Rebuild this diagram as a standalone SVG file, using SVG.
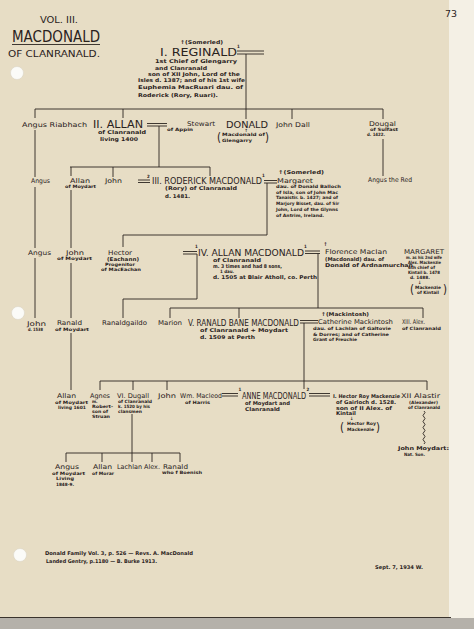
<svg xmlns="http://www.w3.org/2000/svg" width="474" height="629" viewBox="0 0 474 629">
<style>
text{font-family:"DejaVu Sans Condensed","DejaVu Sans",sans-serif;fill:#2a221c}
.big{font-size:10.5px}
.cap{font-size:8px}
.nm{font-size:6.5px}
.sm{font-size:5.2px;font-weight:bold}
.xs{font-size:4.4px;font-weight:bold}
.par{font-size:13px}
.ln{stroke:#2b2520;stroke-width:0.9;fill:none}
</style>
<rect x="0" y="0" width="474" height="629" fill="#e7ddc5"/>
<rect x="449" y="0" width="25" height="629" fill="#f4f0e5"/>
<rect x="0" y="618" width="474" height="11" fill="#b5b1aa"/>
<line x1="0" y1="617.5" x2="451" y2="617.5" stroke="#3a332c" stroke-width="1.2"/>
<g id="holes" fill="#fbfbf8" stroke="#d6d0c2" stroke-width="0.5">
<circle cx="17" cy="73" r="6.5"/><circle cx="18" cy="313" r="6.5"/><circle cx="20" cy="555" r="6.5"/>
</g>
<g id="title">
<text class="cap" x="40" y="23" textLength="38" lengthAdjust="spacingAndGlyphs">VOL. III.</text>
<text x="12" y="42" style="font-size:16px" textLength="88" lengthAdjust="spacingAndGlyphs">MACDONALD</text>
<line class="ln" x1="12" y1="44.5" x2="100" y2="44.5"/>
<text class="cap" x="8" y="57" textLength="92" lengthAdjust="spacingAndGlyphs">OF CLANRANALD.</text>
<text x="445" y="17" style="font-size:9px" textLength="12" lengthAdjust="spacingAndGlyphs">73</text>
</g>
<g id="connectors" class="ln">
<path d="M237 51H264M237 54H264M246 54V109M35 109H383M123 109V118M246 109V119M292 109V119M383 109V119M383 139V176"/>
<path d="M35 109V118M35 130V177M35 187V248M35 258V318"/>
<path d="M71 167V176M71 190V248M71 263V318M71 333V390"/>
<path d="M147 123.5H167M147 126H167M159 126V167M70 167H210M113 167V177M210 167V176"/>
<path d="M138 180H150M138 182.5H150M264 180.5H277M264 183H277M267 183V235M123 235H267M123 235V247"/>
<path d="M183 251.5H197M183 254H197M197 254V299M123 299H197M123 299V318"/>
<path d="M305 251H320M305 253.5H320M318 253.5V308M170 308H423M170 308V318M239 308V318M423 308V318"/>
<path d="M300 320.5H318M300 323H318M304 323V389M100 381H427M100 381V390M133 381V390M167 381V390M427 381V390"/>
<path d="M222 393.5H238M222 396H238M309 393.5H330M309 396H330"/>
<path d="M132 414V462M66 453H180M66 453V462M102 453V462M152 453V462M180 453V462"/>
<path d="M424 411q2 1.5 0 3t0 3t0 3t0 3t0 3t0 3t0 3t0 3t0 3t0 3t0 3"/>
</g>
<g id="reginald">
<text class="sm" x="180" y="43.5" textLength="43" lengthAdjust="spacingAndGlyphs">↑(Somerled)</text>
<text class="big" x="160" y="56" textLength="77" lengthAdjust="spacingAndGlyphs">I. REGINALD</text>
<text class="xs" x="237" y="48">1</text>
<text class="sm" x="155" y="63" textLength="82" lengthAdjust="spacingAndGlyphs">1st Chief of Glengarry</text>
<text class="sm" x="155" y="69.5" textLength="52" lengthAdjust="spacingAndGlyphs">and Clanranald</text>
<text class="sm" x="148" y="75.8" textLength="92" lengthAdjust="spacingAndGlyphs">son of XII John, Lord of the</text>
<text class="sm" x="138" y="82.2" textLength="107" lengthAdjust="spacingAndGlyphs">Isles d. 1387; and of his 1st wife</text>
<text class="sm" x="138" y="89" textLength="105" lengthAdjust="spacingAndGlyphs">Euphemia MacRuari dau. of</text>
<text class="sm" x="138" y="97" textLength="80" lengthAdjust="spacingAndGlyphs">Roderick (Rory, Ruari).</text>
</g>
<g id="angus-riabhach"><text class="nm" x="22" y="127" textLength="65" lengthAdjust="spacingAndGlyphs">Angus Riabhach</text></g>
<g id="allan-ii">
<text class="big" x="93" y="128" textLength="50" lengthAdjust="spacingAndGlyphs">II. ALLAN</text>
<text class="sm" x="98" y="134" textLength="48" lengthAdjust="spacingAndGlyphs">of Clanranald</text>
<text class="sm" x="100" y="141" textLength="38" lengthAdjust="spacingAndGlyphs">living 1400</text>
</g>
<g id="stewart">
<text class="nm" x="187" y="126" textLength="28" lengthAdjust="spacingAndGlyphs">Stewart</text>
<text class="xs" x="167" y="131" textLength="26" lengthAdjust="spacingAndGlyphs">of Appin</text>
</g>
<g id="donald">
<text class="cap" x="226" y="127.5" textLength="42" lengthAdjust="spacingAndGlyphs">DONALD</text>
<text class="xs" x="244.5" y="132">↑</text>
<text class="par" x="217" y="142" textLength="4" lengthAdjust="spacingAndGlyphs">(</text>
<text class="xs" x="222" y="136" textLength="43" lengthAdjust="spacingAndGlyphs">Macdonald of</text>
<text class="xs" x="222" y="141.5" textLength="30" lengthAdjust="spacingAndGlyphs">Glengarry</text>
<text class="par" x="265" y="142" textLength="4" lengthAdjust="spacingAndGlyphs">)</text>
</g>
<g id="john-dall"><text class="nm" x="276" y="126.5" textLength="34" lengthAdjust="spacingAndGlyphs">John Dall</text></g>
<g id="dougal">
<text class="nm" x="369" y="126" textLength="27" lengthAdjust="spacingAndGlyphs">Dougal</text>
<text class="xs" x="370" y="131" textLength="28" lengthAdjust="spacingAndGlyphs">of Sulfast</text>
<text class="xs" x="367" y="136" textLength="18" lengthAdjust="spacingAndGlyphs">d. 1422.</text>
</g>
<g id="angus-1"><text class="nm" x="31" y="183" textLength="19" lengthAdjust="spacingAndGlyphs">Angus</text></g>
<g id="allan-moydart-1">
<text class="nm" x="70" y="182.5" textLength="20" lengthAdjust="spacingAndGlyphs">Allan</text>
<text class="xs" x="65" y="188" textLength="31" lengthAdjust="spacingAndGlyphs">of Moydart</text>
</g>
<g id="john-1"><text class="nm" x="105" y="183" textLength="17" lengthAdjust="spacingAndGlyphs">John</text></g>
<g id="roderick">
<text class="xs" x="147" y="177.5">2</text>
<text class="cap" x="152" y="184" textLength="110" lengthAdjust="spacingAndGlyphs">III. RODERICK MACDONALD</text>
<text class="xs" x="262" y="177">1</text>
<text class="sm" x="165" y="190" textLength="72" lengthAdjust="spacingAndGlyphs">(Rory) of Clanranald</text>
<text class="sm" x="165" y="197.5" textLength="25" lengthAdjust="spacingAndGlyphs">d. 1481.</text>
</g>
<g id="margaret-balloch">
<text class="sm" x="278" y="174" textLength="46" lengthAdjust="spacingAndGlyphs">↑(Somerled)</text>
<text class="nm" x="277" y="182.5" textLength="36" lengthAdjust="spacingAndGlyphs">Margaret</text>
<text class="xs" x="276" y="188" textLength="65" lengthAdjust="spacingAndGlyphs">dau. of Donald Balloch</text>
<text class="xs" x="276" y="193.5" textLength="62" lengthAdjust="spacingAndGlyphs">of Isla, son of John Mac</text>
<text class="xs" x="276" y="199" textLength="62" lengthAdjust="spacingAndGlyphs">Tanaistir. b. 1427; and of</text>
<text class="xs" x="276" y="204.5" textLength="63" lengthAdjust="spacingAndGlyphs">Marjory Bisset, dau. of Sir</text>
<text class="xs" x="276" y="210.5" textLength="62" lengthAdjust="spacingAndGlyphs">John, Lord of the Glynns</text>
<text class="xs" x="276" y="216.5" textLength="48" lengthAdjust="spacingAndGlyphs">of Antrim, Ireland.</text>
</g>
<g id="angus-the-red"><text class="nm" x="368" y="182" textLength="44" lengthAdjust="spacingAndGlyphs">Angus the Red</text></g>
<g id="angus-2"><text class="nm" x="28" y="255" textLength="23" lengthAdjust="spacingAndGlyphs">Angus</text></g>
<g id="john-moydart-1">
<text class="nm" x="66" y="254.5" textLength="18" lengthAdjust="spacingAndGlyphs">John</text>
<text class="xs" x="57" y="260" textLength="35" lengthAdjust="spacingAndGlyphs">of Moydart</text>
</g>
<g id="hector">
<text class="nm" x="108" y="254.5" textLength="24" lengthAdjust="spacingAndGlyphs">Hector</text>
<text class="sm" x="107" y="260.5" textLength="32" lengthAdjust="spacingAndGlyphs">(Eachann)</text>
<text class="xs" x="105" y="266" textLength="30" lengthAdjust="spacingAndGlyphs">Progenitor</text>
<text class="xs" x="101" y="271" textLength="40" lengthAdjust="spacingAndGlyphs">of MacEachan</text>
</g>
<g id="allan-iv">
<text class="xs" x="195" y="248">1</text>
<text class="cap" x="198" y="255.5" textLength="106" lengthAdjust="spacingAndGlyphs">IV. ALLAN MACDONALD</text>
<text class="xs" x="304" y="248">1</text>
<text class="sm" x="213" y="261.5" textLength="48" lengthAdjust="spacingAndGlyphs">of Clanranald</text>
<text class="sm" x="213" y="267.5" textLength="69" lengthAdjust="spacingAndGlyphs">m. 3 times and had 8 sons,</text>
<text class="xs" x="220" y="272.5" textLength="14" lengthAdjust="spacingAndGlyphs">1 dau.</text>
<text class="sm" x="213" y="278.5" textLength="104" lengthAdjust="spacingAndGlyphs">d. 1505 at Blair Atholl, co. Perth</text>
</g>
<g id="florence">
<text class="sm" x="323.5" y="246">↑</text>
<text class="nm" x="325" y="254" textLength="62" lengthAdjust="spacingAndGlyphs">Florence MacIan</text>
<text class="sm" x="325" y="261" textLength="59" lengthAdjust="spacingAndGlyphs">(Macdonald) dau. of</text>
<text class="sm" x="325" y="267" textLength="88" lengthAdjust="spacingAndGlyphs">Donald of Ardnamurchan</text>
</g>
<g id="margaret">
<text class="nm" x="404" y="254" textLength="40" lengthAdjust="spacingAndGlyphs">MARGARET</text>
<text class="xs" x="406" y="259" textLength="36" lengthAdjust="spacingAndGlyphs">m. as his 2nd wife</text>
<text class="xs" x="408" y="264" textLength="33" lengthAdjust="spacingAndGlyphs">Alex. Mackenzie</text>
<text class="xs" x="408" y="269" textLength="27" lengthAdjust="spacingAndGlyphs">6th chief of</text>
<text class="xs" x="408" y="274" textLength="32" lengthAdjust="spacingAndGlyphs">Kintail b. 1478</text>
<text class="xs" x="410" y="279" textLength="20" lengthAdjust="spacingAndGlyphs">d. 1488.</text>
<text class="xs" x="418" y="284">↓</text>
<text class="par" x="410" y="294" textLength="4" lengthAdjust="spacingAndGlyphs">(</text>
<text class="xs" x="415" y="288.5" textLength="26" lengthAdjust="spacingAndGlyphs">Mackenzie</text>
<text class="xs" x="417" y="293.5" textLength="22" lengthAdjust="spacingAndGlyphs">of Kintail</text>
<text class="par" x="443" y="294" textLength="4" lengthAdjust="spacingAndGlyphs">)</text>
</g>
<g id="john-1538">
<text class="nm" x="27" y="325.5" textLength="19" lengthAdjust="spacingAndGlyphs">John</text>
<text class="xs" x="28" y="331" textLength="15" lengthAdjust="spacingAndGlyphs">d. 1538</text>
</g>
<g id="ranald-moydart">
<text class="nm" x="57" y="325" textLength="25" lengthAdjust="spacingAndGlyphs">Ranald</text>
<text class="xs" x="55" y="330.5" textLength="34" lengthAdjust="spacingAndGlyphs">of Moydart</text>
</g>
<g id="ranaldgaildo"><text class="nm" x="102" y="325" textLength="45" lengthAdjust="spacingAndGlyphs">Ranaldgaildo</text></g>
<g id="marion"><text class="nm" x="158" y="325" textLength="24" lengthAdjust="spacingAndGlyphs">Marion</text></g>
<g id="ranald-bane">
<text class="cap" x="188" y="326" textLength="111" lengthAdjust="spacingAndGlyphs">V. RANALD BANE MACDONALD</text>
<text class="sm" x="200" y="332" textLength="88" lengthAdjust="spacingAndGlyphs">of Clanranald + Moydart</text>
<text class="sm" x="200" y="338.5" textLength="55" lengthAdjust="spacingAndGlyphs">d. 1509 at Perth</text>
</g>
<g id="catherine">
<text class="sm" x="321" y="316" textLength="48" lengthAdjust="spacingAndGlyphs">↑(Mackintosh)</text>
<text class="nm" x="318" y="324" textLength="75" lengthAdjust="spacingAndGlyphs">Catherine Mackintosh</text>
<text class="xs" x="313" y="330" textLength="78" lengthAdjust="spacingAndGlyphs">dau. of Lachlan of Galtovie</text>
<text class="xs" x="313" y="335.5" textLength="76" lengthAdjust="spacingAndGlyphs">&amp; Dorres; and of Catherine</text>
<text class="xs" x="313" y="341" textLength="44" lengthAdjust="spacingAndGlyphs">Grant of Freuchie</text>
</g>
<g id="alex-xiii">
<text class="nm" x="402" y="324" textLength="23" lengthAdjust="spacingAndGlyphs">XIII. Alex.</text>
<text class="xs" x="402" y="329.5" textLength="39" lengthAdjust="spacingAndGlyphs">of Clanranald</text>
</g>
<g id="allan-moydart-2">
<text class="nm" x="57" y="398" textLength="19" lengthAdjust="spacingAndGlyphs">Allan</text>
<text class="xs" x="55" y="403.5" textLength="33" lengthAdjust="spacingAndGlyphs">of Moydart</text>
<text class="xs" x="58" y="408.5" textLength="28" lengthAdjust="spacingAndGlyphs">living 1601</text>
</g>
<g id="agnes">
<text class="nm" x="90" y="398" textLength="20" lengthAdjust="spacingAndGlyphs">Agnes</text>
<text class="xs" x="92" y="403">m.</text>
<text class="xs" x="92" y="408" textLength="21" lengthAdjust="spacingAndGlyphs">Robert-</text>
<text class="xs" x="92" y="413" textLength="16" lengthAdjust="spacingAndGlyphs">son of</text>
<text class="xs" x="92" y="418" textLength="18" lengthAdjust="spacingAndGlyphs">Struan</text>
</g>
<g id="dugall">
<text class="nm" x="117" y="398" textLength="32" lengthAdjust="spacingAndGlyphs">VI. Dugall</text>
<text class="xs" x="118" y="403" textLength="34" lengthAdjust="spacingAndGlyphs">of Clanranald</text>
<text class="xs" x="118" y="408" textLength="32" lengthAdjust="spacingAndGlyphs">k. 1520 by his</text>
<text class="xs" x="118" y="413" textLength="24" lengthAdjust="spacingAndGlyphs">clansmen</text>
</g>
<g id="john-2"><text class="nm" x="158" y="398" textLength="18" lengthAdjust="spacingAndGlyphs">John</text></g>
<g id="wm-macleod">
<text class="nm" x="180" y="398" textLength="42" lengthAdjust="spacingAndGlyphs">Wm. Macleod</text>
<text class="xs" x="185" y="403.5" textLength="25" lengthAdjust="spacingAndGlyphs">of Harris</text>
</g>
<g id="anne">
<text class="xs" x="238.5" y="391">1</text>
<text class="cap" x="242" y="399" textLength="64" lengthAdjust="spacingAndGlyphs">ANNE MACDONALD</text>
<text class="xs" x="306.5" y="391">2</text>
<text class="sm" x="245" y="405" textLength="45" lengthAdjust="spacingAndGlyphs">of Moydart and</text>
<text class="sm" x="245" y="411" textLength="35" lengthAdjust="spacingAndGlyphs">Clanranald</text>
</g>
<g id="hector-roy">
<text class="sm" x="333" y="398" textLength="67" lengthAdjust="spacingAndGlyphs">I. Hector Roy Mackenzie</text>
<text class="sm" x="336" y="404" textLength="60" lengthAdjust="spacingAndGlyphs">of Gairloch d. 1528.</text>
<text class="sm" x="336" y="409.5" textLength="56" lengthAdjust="spacingAndGlyphs">son of II Alex. of</text>
<text class="sm" x="336" y="415" textLength="20" lengthAdjust="spacingAndGlyphs">Kintail</text>
<text class="xs" x="350" y="420">↓</text>
<text class="par" x="340" y="432" textLength="4" lengthAdjust="spacingAndGlyphs">(</text>
<text class="xs" x="347" y="425" textLength="29" lengthAdjust="spacingAndGlyphs">Hector Roy</text>
<text class="xs" x="347" y="430.5" textLength="27" lengthAdjust="spacingAndGlyphs">Mackenzie</text>
<text class="par" x="376" y="432" textLength="4" lengthAdjust="spacingAndGlyphs">)</text>
</g>
<g id="alastir">
<text class="nm" x="401" y="398" textLength="39" lengthAdjust="spacingAndGlyphs">XII Alastir</text>
<text class="xs" x="409" y="404" textLength="29" lengthAdjust="spacingAndGlyphs">(Alexander)</text>
<text class="xs" x="408" y="409" textLength="32" lengthAdjust="spacingAndGlyphs">of Clanranald</text>
</g>
<g id="john-moydart-nat">
<text class="sm" x="398" y="450" textLength="51" lengthAdjust="spacingAndGlyphs">John Moydart:</text>
<text class="xs" x="404" y="455.5" textLength="21" lengthAdjust="spacingAndGlyphs">Nat. Son.</text>
</g>
<g id="angus-3">
<text class="nm" x="55" y="469" textLength="24" lengthAdjust="spacingAndGlyphs">Angus</text>
<text class="xs" x="52" y="474.5" textLength="33" lengthAdjust="spacingAndGlyphs">of Moydart</text>
<text class="xs" x="56" y="480" textLength="18" lengthAdjust="spacingAndGlyphs">Living</text>
<text class="xs" x="56" y="486" textLength="18" lengthAdjust="spacingAndGlyphs">1848-9.</text>
</g>
<g id="allan-morar">
<text class="nm" x="93" y="469" textLength="19" lengthAdjust="spacingAndGlyphs">Allan</text>
<text class="xs" x="92" y="474.5" textLength="22" lengthAdjust="spacingAndGlyphs">of Morar</text>
</g>
<g id="lachlan-alex"><text class="nm" x="117" y="469" textLength="43" lengthAdjust="spacingAndGlyphs">Lachlan Alex.</text></g>
<g id="ranald-bornish">
<text class="nm" x="163" y="468.5" textLength="25" lengthAdjust="spacingAndGlyphs">Ranald</text>
<text class="xs" x="162" y="474" textLength="40" lengthAdjust="spacingAndGlyphs">who f Boenish</text>
</g>
<g id="footer">
<text class="sm" x="45" y="554.5" textLength="148" lengthAdjust="spacingAndGlyphs">Donald Family Vol. 3, p. 526 — Revs. A. MacDonald</text>
<text class="sm" x="46" y="562.5" textLength="111" lengthAdjust="spacingAndGlyphs">Landed Gentry, p.1180 — B. Burke 1913.</text>
<text class="sm" x="375" y="568.5" textLength="48" lengthAdjust="spacingAndGlyphs">Sept. 7, 1934 W.</text>
</g>
</svg>
